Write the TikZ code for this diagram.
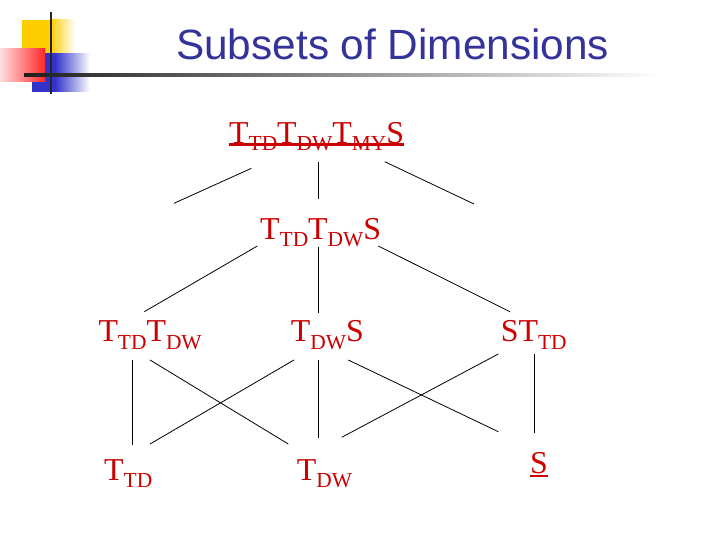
\documentclass[tikz,border=0pt]{standalone}
\usepackage{fontspec}
\newfontfamily\lblfont{Liberation Serif}
\newfontfamily\titlefont{Liberation Sans}

\definecolor{titleblue}{RGB}{51,51,153}
\definecolor{dimred}{RGB}{204,0,0}
\definecolor{logoyellow}{RGB}{255,204,0}
\definecolor{logoblue}{RGB}{51,51,204}
\definecolor{logored}{RGB}{255,40,40}

\newcommand{\dsub}[1]{\raisebox{-7.5bp}{\fontsize{21.5}{22}\selectfont #1}}

\begin{document}
\begin{tikzpicture}[x=1bp,y=-1bp,
  lbl/.style={text=dimred,inner sep=0pt,anchor=base west,
              font=\lblfont\fontsize{32}{36}\selectfont},
  ln/.style={line width=0.8bp},
  ul/.style={draw=dimred,line width=2.4bp}]
\useasboundingbox (0,0) rectangle (720,540);
% logo
\fill[logoyellow] (21.7,20) rectangle (50,53);
\shade[left color=logoyellow,right color=white] (50,20) rectangle (75,53);
\fill[logoblue] (32.3,53.3) rectangle (55,91.7);
\shade[left color=logoblue,right color=white] (55,53.3) rectangle (90,91.7);
\shade[left color=logored!15,right color=logored] (0,48.3) rectangle (45,81.7);
\draw[line width=2.6bp,black!85] (51,12.3) -- (51,94.3);
\shade[left color=black!88,middle color=black!25,right color=white]
  (24,74) rectangle (660,76.7);
% title
\node[anchor=base west,inner sep=0pt,text=titleblue,
      font=\titlefont\fontsize{42.5}{50}\selectfont] (title) at (176,59.3)
      {Subsets of Dimensions};
% subsets
\node[lbl] (all) at (229,143.3) {T\dsub{TD}T\dsub{DW}T\dsub{MY}S};
\node[lbl] (tds) at (260,239.3) {T\dsub{TD}T\dsub{DW}S};
\node[lbl] (tdw) at (98.3,341.7) {T\dsub{TD}T\dsub{DW}};
\node[lbl] (dws) at (290.7,341.7) {T\dsub{DW}S};
\node[lbl] (std) at (500.7,341.7) {ST\dsub{TD}};
\node[lbl] (td) at (104,480) {T\dsub{TD}};
\node[lbl] (dw) at (296.7,480) {T\dsub{DW}};
\node[lbl] (s) at (530,473.3) {S};
\draw[ul] ([shift={(0,1.4)}]all.base west) -- ([shift={(0,1.4)}]all.base east);
\draw[ul,line width=2bp] ([shift={(0,2.4)}]s.base west) -- ([shift={(0,2.4)}]s.base east);
% loose ends below the full set
\coordinate (free1) at (174,203.3);
\coordinate (free2) at (318.3,199);
\coordinate (free3) at (474,204);
\draw[ln] ([shift={(22.4,25)}]all.base west) -- (free1);
\draw[ln] ([shift={(89.3,18.4)}]all.base west) -- (free2);
\draw[ln] ([shift={(155.7,18.4)}]all.base west) -- (free3);
% lattice
\draw[ln] ([shift={(-2.7,6.7)}]tds.base west) -- ([shift={(46,-30)}]tdw.base west);
\draw[ln] ([shift={(58.3,7.4)}]tds.base west) -- ([shift={(27.6,-28.7)}]dws.base west);
\draw[ln] ([shift={(118.3,6.7)}]tds.base west) -- ([shift={(9.3,-30)}]std.base west);
\draw[ln] ([shift={(34,18.3)}]tdw.base west) -- ([shift={(28.3,-35)}]td.base west);
\draw[ln] ([shift={(51.7,18.3)}]tdw.base west) -- ([shift={(-8.4,-36)}]dw.base west);
\draw[ln] ([shift={(3.3,18.3)}]dws.base west) -- ([shift={(46,-36)}]td.base west);
\draw[ln] ([shift={(27.6,18.3)}]dws.base west) -- ([shift={(21.6,-41.7)}]dw.base west);
\draw[ln] ([shift={(57.6,18.3)}]dws.base west) -- ([shift={(-31.7,-41.6)}]s.base west);
\draw[ln] ([shift={(-2.4,12.3)}]std.base west) -- ([shift={(45,-42.7)}]dw.base west);
\draw[ln] ([shift={(34,12.3)}]std.base west) -- ([shift={(4.7,-40.6)}]s.base west);
\end{tikzpicture}
\end{document}
